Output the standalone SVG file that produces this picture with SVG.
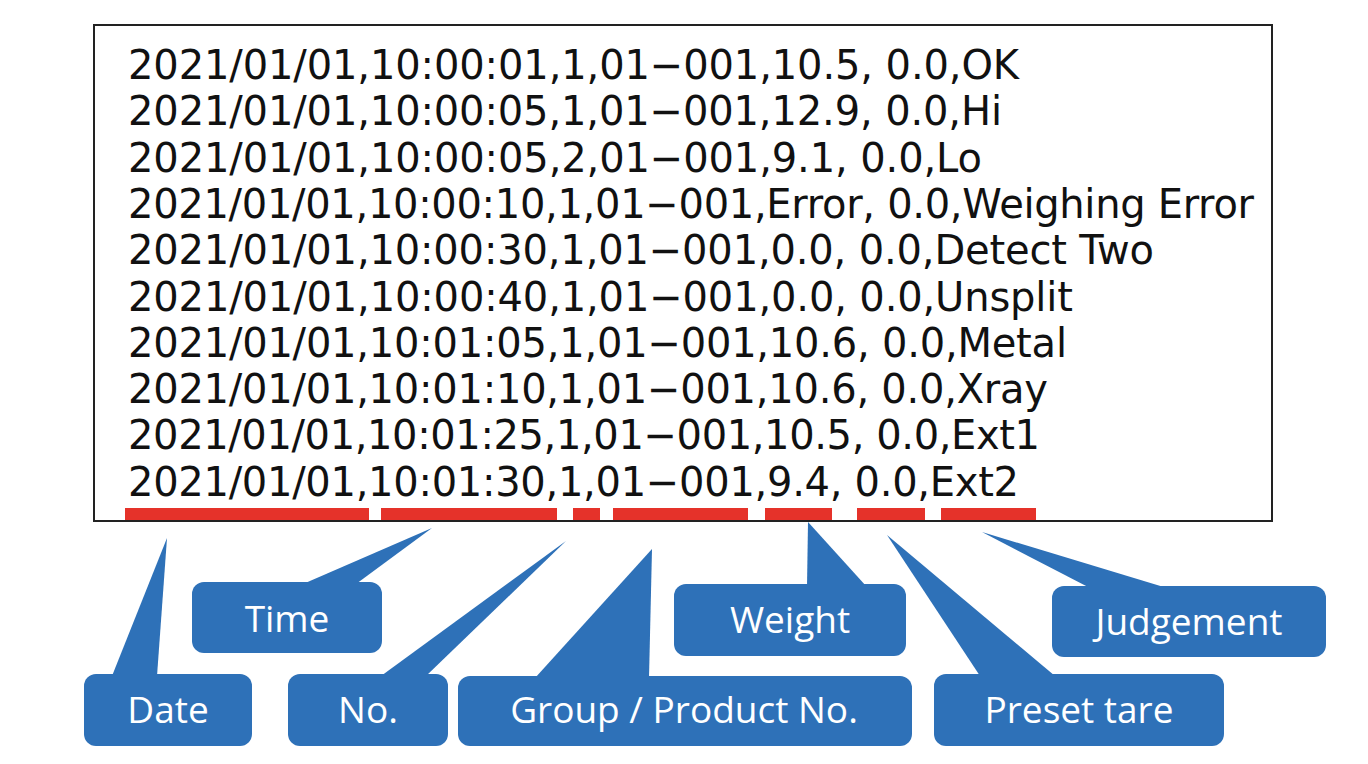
<svg xmlns="http://www.w3.org/2000/svg" width="1368" height="764" viewBox="0 0 1368 764">
<style>
.log{font-family:"DejaVu Sans","Liberation Sans",sans-serif;font-size:40px;fill:#111}
.bar{fill:#E5322A}
.co{fill:#2E71B8}
.lbl{font-family:"Open Sans","Noto Sans",sans-serif;font-size:37px;fill:#fff;text-anchor:middle}
</style>
<rect width="1368" height="764" fill="#fff"/>
<g id="log">
<rect x="94" y="25" width="1178" height="496" fill="#fff" stroke="#222" stroke-width="2"/>
<text class="log" x="128" y="79" textLength="891" lengthAdjust="spacing">2021/01/01,10:00:01,1,01−001,10.5, 0.0,OK</text>
<text class="log" x="128" y="125.3" textLength="874" lengthAdjust="spacing">2021/01/01,10:00:05,1,01−001,12.9, 0.0,Hi</text>
<text class="log" x="128" y="171.6" textLength="854" lengthAdjust="spacing">2021/01/01,10:00:05,2,01−001,9.1, 0.0,Lo</text>
<text class="log" x="128" y="217.9" textLength="1126" lengthAdjust="spacing">2021/01/01,10:00:10,1,01−001,Error, 0.0,Weighing Error</text>
<text class="log" x="128" y="264.2" textLength="1026" lengthAdjust="spacing">2021/01/01,10:00:30,1,01−001,0.0, 0.0,Detect Two</text>
<text class="log" x="128" y="310.5" textLength="945" lengthAdjust="spacing">2021/01/01,10:00:40,1,01−001,0.0, 0.0,Unsplit</text>
<text class="log" x="128" y="356.8" textLength="939" lengthAdjust="spacing">2021/01/01,10:01:05,1,01−001,10.6, 0.0,Metal</text>
<text class="log" x="128" y="403.1" textLength="920" lengthAdjust="spacing">2021/01/01,10:01:10,1,01−001,10.6, 0.0,Xray</text>
<text class="log" x="128" y="449.4" textLength="912" lengthAdjust="spacing">2021/01/01,10:01:25,1,01−001,10.5, 0.0,Ext1</text>
<text class="log" x="128" y="495.7" textLength="891" lengthAdjust="spacing">2021/01/01,10:01:30,1,01−001,9.4, 0.0,Ext2</text>
</g>
<g id="bars">
<rect class="bar" x="125" y="508" width="244" height="12"/>
<rect class="bar" x="381" y="508" width="176" height="12"/>
<rect class="bar" x="573" y="508" width="27" height="12"/>
<rect class="bar" x="613" y="508" width="135" height="12"/>
<rect class="bar" x="765" y="508" width="67" height="12"/>
<rect class="bar" x="857" y="508" width="68" height="12"/>
<rect class="bar" x="941" y="508" width="95" height="12"/>
</g>
<g id="connectors">
<polygon class="co" points="167,538 112,676 157,676"/>
<polygon class="co" points="432,528 303,584 356,584"/>
<polygon class="co" points="566,541 381,676 426,676"/>
<polygon class="co" points="652,549 535,678 649,678"/>
<polygon class="co" points="808,522 807,586 866,586"/>
<polygon class="co" points="982,532 1090,588 1167,588"/>
<polygon class="co" points="887,535 980,676 1055,676"/>
</g>
<g id="date">
<rect class="co" x="84" y="674" width="168" height="72" rx="12"/>
<text class="lbl" x="168" y="723">Date</text>
</g>
<g id="time">
<rect class="co" x="192" y="582" width="190" height="71" rx="12"/>
<text class="lbl" x="287" y="632">Time</text>
</g>
<g id="no">
<rect class="co" x="288" y="674" width="160" height="72" rx="12"/>
<text class="lbl" x="368" y="723">No.</text>
</g>
<g id="group">
<rect class="co" x="458" y="676" width="454" height="70" rx="12"/>
<text class="lbl" x="684" y="723">Group / Product No.</text>
</g>
<g id="weight">
<rect class="co" x="674" y="584" width="232" height="72" rx="12"/>
<text class="lbl" x="790" y="633">Weight</text>
</g>
<g id="judgement">
<rect class="co" x="1052" y="586" width="274" height="71" rx="12"/>
<text class="lbl" x="1189" y="635">Judgement</text>
</g>
<g id="preset">
<rect class="co" x="934" y="674" width="290" height="72" rx="12"/>
<text class="lbl" x="1079" y="723">Preset tare</text>
</g>
</svg>
